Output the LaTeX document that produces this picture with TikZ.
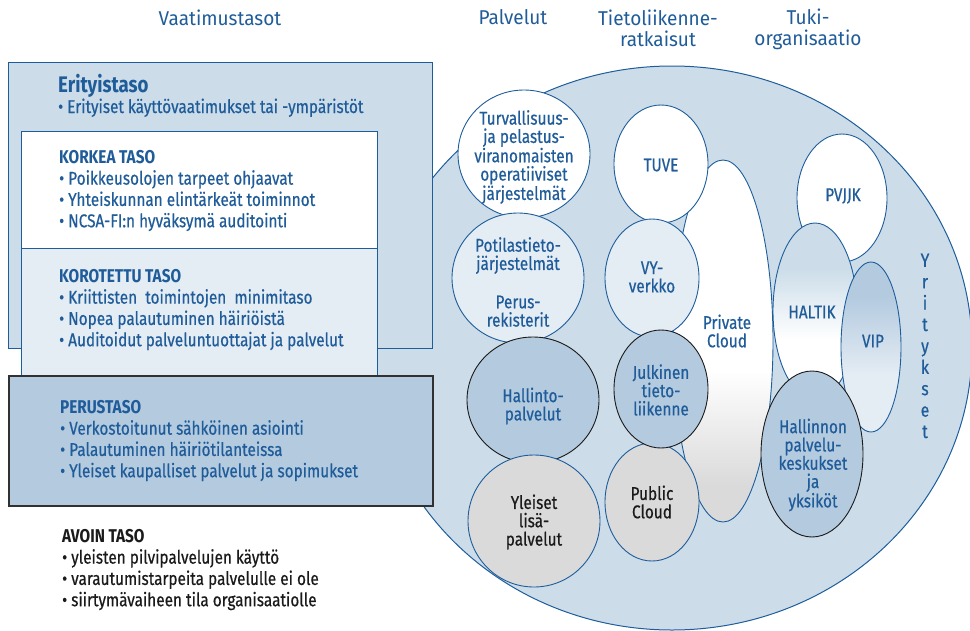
\documentclass[tikz,border=0pt]{standalone}
\usepackage{fontspec}
\setmainfont{Fira Sans}
\newfontfamily\condf[FakeStretch=0.83, UprightFeatures={FakeBold=0.5}]{Fira Sans}
\newfontfamily\headf[FakeStretch=0.95]{Fira Sans}
\usetikzlibrary{shapes.geometric}

\definecolor{tblue}{HTML}{1F5C99}
\definecolor{lineblue}{HTML}{1E5D9C}
\definecolor{paleblue}{HTML}{CCDDE9}
\definecolor{lightblue}{HTML}{E4ECF4}
\definecolor{midblue}{HTML}{B3CADF}
\definecolor{cgray}{HTML}{DADADA}
\definecolor{ink}{HTML}{1A1A1A}

% vertical fills: 25bp = bottom edge, 75bp = top edge
\pgfdeclareverticalshading{privshade}{100bp}{color(0bp)=(cgray); color(30bp)=(cgray); color(46bp)=(white); color(100bp)=(white)}
\pgfdeclareverticalshading{haltikshade}{100bp}{color(0bp)=(white); color(42bp)=(white); color(62bp)=(paleblue); color(100bp)=(paleblue)}
\pgfdeclareverticalshading{vipshade}{100bp}{color(0bp)=(lightblue); color(42bp)=(lightblue); color(65bp)=(midblue); color(100bp)=(midblue)}

\tikzset{
  head/.style={font=\headf\fontsize{20}{21}\selectfont, text=tblue, align=center, inner sep=0pt},
  lvlbox/.style={rectangle, anchor=north west, inner sep=0pt, draw=lineblue, line width=1pt},
  lvltxt/.style={anchor=north west, align=left, inner sep=0pt, text=tblue,
    font=\condf\fontsize{18.5}{21.3}\selectfont},
  bigtitle/.style={anchor=base west, inner sep=0pt, text=tblue,
    font=\condf\bfseries\fontsize{22.5}{22.5}\selectfont},
  bub/.style={ellipse, draw=lineblue, line width=0.9pt, inner sep=0pt},
  dbub/.style={ellipse, draw=ink, line width=0.9pt, inner sep=0pt},
  ctxt/.style={font=\condf\fontsize{18.5}{18.3}\selectfont, text=tblue, align=center, inner sep=0pt},
}

\begin{document}
\begin{tikzpicture}[x=1pt, y=-1pt]
\useasboundingbox (0,0) rectangle (970,630);

% column headings
\node[head, anchor=base] (hVaat) at (220,25) {Vaatimustasot};
\node[head, anchor=base] (hPalv) at (513,24) {Palvelut};
\node[head] (hTiet) at (658,28) {Tietoliikenne-\\ratkaisut};
\node[head] (hTuki) at (808,29) {Tuki-\\organisaatio};

% the large field of actors
\node[ellipse, draw=lineblue, fill=paleblue, line width=1pt, inner sep=0pt,
      minimum width=600, minimum height=564] (field) at (672,348) {};

% communication solutions
\node[bub, shade, shading=privshade, minimum width=100, minimum height=362] (priv) at (723,341) {};
\node[bub, fill=white, minimum width=94, minimum height=118] (tuve) at (661,164) {};
\node[bub, fill=lightblue, minimum width=94, minimum height=118] (vy) at (652,278) {};
\node[bub, fill=cgray, minimum width=94, minimum height=118] (pub) at (652,502) {};
\node[dbub, fill=midblue, minimum width=94, minimum height=118] (julk) at (661,389) {};

% services
\node[bub, fill=white, minimum width=132, minimum height=128] (turva) at (524,154) {};
\node[bub, fill=lightblue, minimum width=132, minimum height=130] (poti) at (518,278) {};
\node[dbub, fill=midblue, minimum width=132, minimum height=126] (hall) at (533,400) {};
\node[bub, fill=cgray, minimum width=132, minimum height=132] (ylei) at (534,521) {};

% support organisation
\node[bub, fill=white, minimum width=90, minimum height=128] (pvjjk) at (842,198) {};
\node[bub, shade, shading=haltikshade, minimum width=84, minimum height=176] (haltik) at (815,311) {};
\node[bub, shade, shading=vipshade, minimum width=60, minimum height=170] (vip) at (871,347) {};
\node[dbub, fill=midblue, minimum width=102, minimum height=166] (hpk) at (812,454) {};

% texts in the bubbles
\node[ctxt] (tTurva) at (524,157) {Turvallisuus-\\ja pelastus-\\viranomaisten\\operatiiviset\\järjestelmät};
\node[ctxt] (tPoti) at (518,282) {Potilastieto-\\järjestelmät\\[20pt]Perus-\\rekisterit};
\node[ctxt] (tHall) at (533,406) {Hallinto-\\palvelut};
\node[ctxt, text=ink] (tYlei) at (534,522) {Yleiset\\lisä-\\palvelut};
\node[ctxt] (tTuve) at (661,165) {TUVE};
\node[ctxt] (tVy) at (652,277) {VY-\\verkko};
\node[ctxt] (tJulk) at (661,390) {Julkinen\\tieto-\\liikenne};
\node[ctxt, text=ink] (tPub) at (652,502) {Public\\Cloud};
\node[ctxt] (tPriv) at (727,331) {Private\\Cloud};
\node[ctxt] (tPvjjk) at (843,196) {PVJJK};
\node[ctxt] (tHaltik) at (812,312) {HALTIK};
\node[ctxt] (tVip) at (873,341) {VIP};
\node[ctxt] (tHpk) at (813,465) {Hallinnon\\palvelu-\\keskukset\\ja\\yksiköt};
\node[ctxt, font=\condf\fontsize{19}{21.4}\selectfont] (tYrit) at (925,346) {Y\\r\\i\\t\\y\\k\\s\\e\\t};

% requirement levels
\node[lvlbox, fill=paleblue, minimum width=424, minimum height=286] (bEri) at (8,62) {};
\node[lvlbox, fill=white, minimum width=356, minimum height=117] (bKork) at (21,131) {};
\node[lvlbox, fill=lightblue, minimum width=356, minimum height=127] (bKoro) at (21,248) {};
\node[lvlbox, fill=midblue, draw=ink!90, line width=1.5pt, minimum width=424, minimum height=130] (bPerus) at (8,375) {};

\node[bigtitle] (tEriT) at (58,92) {Erityistaso};
\node[lvltxt, anchor=base west] (tEri) at (58,113) {• Erityiset käyttövaatimukset tai -ympäristöt};
\node[lvltxt] (tKork) at (59,150) {{\bfseries KORKEA TASO}\\
  • Poikkeusolojen tarpeet ohjaavat\\
  • Yhteiskunnan elintärkeät toiminnot\\
  • NCSA-FI:n hyväksymä auditointi};
\node[lvltxt] (tKoro) at (59,269) {{\bfseries KOROTETTU TASO}\\
  • Kriittisten~ toimintojen~ minimitaso\\
  • Nopea palautuminen häiriöistä\\
  • Auditoidut palveluntuottajat ja palvelut};
\node[lvltxt] (tPerus) at (60,400) {{\bfseries PERUSTASO}\\
  • Verkostoitunut sähköinen asiointi\\
  • Palautuminen häiriötilanteissa\\
  • Yleiset kaupalliset palvelut ja sopimukset};
\node[lvltxt, text=ink] (tAvoin) at (62,529) {{\bfseries AVOIN TASO}\\
  • yleisten pilvipalvelujen käyttö\\
  • varautumistarpeita palvelulle ei ole\\
  • siirtymävaiheen tila organisaatiolle};
\end{tikzpicture}
\end{document}
